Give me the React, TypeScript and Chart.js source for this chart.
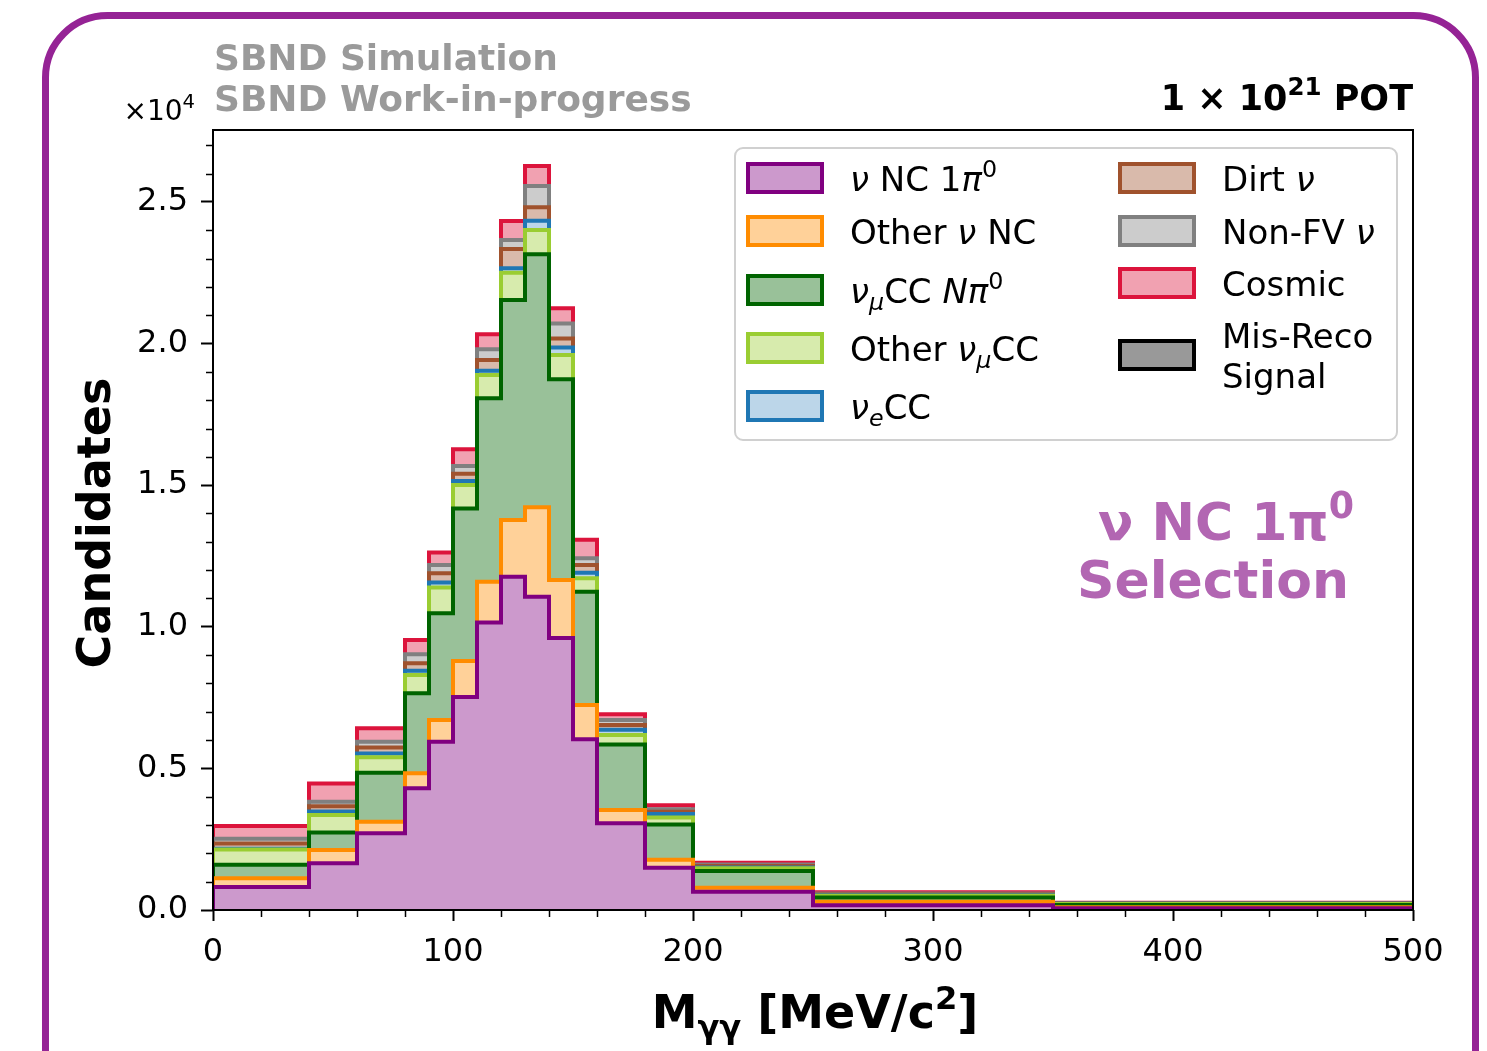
import React, { useEffect, useRef } from "react";
import { Chart, registerables } from "chart.js";

Chart.register(...registerables);

// ---------------- DATA ----------------
const binEdges = [0, 40, 60, 80, 90, 100, 110, 120, 130, 140, 150, 160, 180, 200, 250, 350, 500];

const nuNC1pi0 = [810, 1650, 2710, 4300, 5940, 7520, 10150, 11770, 11060, 9600, 6030, 3060, 1490, 640, 170, 60];
const otherNuNC = [310, 470, 410, 530, 770, 1270, 1440, 2000, 3160, 2050, 1210, 470, 280, 150, 120, 40];
const numuCCNpi0 = [480, 620, 1730, 2820, 3770, 5390, 6480, 7770, 8930, 7090, 4000, 2310, 1250, 590, 150, 80];
const otherNumuCC = [540, 610, 540, 650, 910, 830, 820, 960, 860, 860, 470, 340, 250, 90, 60, 30];
const nueCC = [20, 130, 140, 150, 170, 140, 150, 160, 330, 260, 200, 180, 120, 30, 20, 10];
const dirtNu = [190, 180, 210, 260, 330, 250, 380, 680, 470, 320, 270, 170, 80, 50, 30, 10];
const nonFVNu = [170, 160, 200, 320, 290, 280, 380, 320, 750, 530, 240, 180, 90, 60, 30, 10];
const cosmic = [450, 650, 480, 500, 440, 590, 530, 670, 710, 540, 650, 200, 140, 60, 50, 20];
const misRecoSignal = [0, 0, 0, 0, 0, 0, 0, 0, 0, 0, 0, 0, 0, 0, 0, 0];

const xTicks = [0, 100, 200, 300, 400, 500];
const yTicks = [0, 5000, 10000, 15000, 20000, 25000];
const yMax = 27540;

// legend/series labels
type Seg = { t: string; it?: boolean; sub?: boolean; sup?: boolean };
const seriesNames = [
  "ν NC 1π0",
  "Other ν NC",
  "νμCC Nπ0",
  "Other νμCC",
  "νeCC",
  "Dirt ν",
  "Non-FV ν",
  "Cosmic",
  "Mis-Reco Signal",
];
const seriesRich: Seg[][] = [
  [{ t: "ν", it: true }, { t: " NC 1" }, { t: "π", it: true }, { t: "0", sup: true }],
  [{ t: "Other " }, { t: "ν", it: true }, { t: " NC" }],
  [{ t: "ν", it: true }, { t: "μ", it: true, sub: true }, { t: "CC " }, { t: "Nπ", it: true }, { t: "0", sup: true }],
  [{ t: "Other " }, { t: "ν", it: true }, { t: "μ", it: true, sub: true }, { t: "CC" }],
  [{ t: "ν", it: true }, { t: "e", it: true, sub: true }, { t: "CC" }],
  [{ t: "Dirt " }, { t: "ν", it: true }],
  [{ t: "Non-FV " }, { t: "ν", it: true }],
  [{ t: "Cosmic" }],
  [{ t: "Mis-Reco" }],
];

const seriesValues = [nuNC1pi0, otherNuNC, numuCCNpi0, otherNumuCC, nueCC, dirtNu, nonFVNu, cosmic, misRecoSignal];
const edgeColors = ["#800080", "#ff8c00", "#006400", "#9acd32", "#1f77b4", "#a0522d", "#808080", "#dc143c", "#000000"];
const fillColors = ["#cc99cc", "#ffd199", "#99c199", "#d7ebad", "#bcd6e9", "#d9baab", "#cccccc", "#f1a1b1", "#999999"];

// ---------------- HELPERS ----------------
const FAM = '"DejaVu Sans"';

function fontFor(seg: Seg, size: number, bold: boolean) {
  const s = seg.sub || seg.sup ? size * 0.7 : size;
  return `${seg.it ? "italic " : ""}${bold ? "bold " : ""}${s}px ${FAM}`;
}

function drawRich(
  ctx: CanvasRenderingContext2D,
  segs: Seg[],
  x: number,
  y: number,
  size: number,
  bold: boolean,
  color: string,
  align: "left" | "center" | "right"
) {
  ctx.save();
  ctx.fillStyle = color;
  ctx.textBaseline = "alphabetic";
  ctx.textAlign = "left";
  let w = 0;
  for (const s of segs) {
    ctx.font = fontFor(s, size, bold);
    w += ctx.measureText(s.t).width;
  }
  let cx = align === "left" ? x : align === "center" ? x - w / 2 : x - w;
  for (const s of segs) {
    ctx.font = fontFor(s, size, bold);
    const dy = s.sub ? size * 0.22 : s.sup ? -size * 0.42 : 0;
    ctx.fillText(s.t, cx, y + dy);
    cx += ctx.measureText(s.t).width;
  }
  ctx.restore();
}

function stepPoints(cum: number[]) {
  const pts: { x: number; y: number }[] = [{ x: binEdges[0], y: 0 }];
  for (let i = 0; i < cum.length; i++) {
    pts.push({ x: binEdges[i], y: cum[i] });
    pts.push({ x: binEdges[i + 1], y: cum[i] });
  }
  pts.push({ x: binEdges[binEdges.length - 1], y: 0 });
  return pts;
}

const decorPlugin = {
  id: "decor",
  beforeDraw(chart: any) {
    const ctx: CanvasRenderingContext2D = chart.ctx;
    ctx.save();
    ctx.fillStyle = "#ffffff";
    ctx.fillRect(0, 0, chart.width, chart.height);
    ctx.restore();
  },
  afterDraw(chart: any) {
    const ctx: CanvasRenderingContext2D = chart.ctx;
    const { left, right, top, bottom } = chart.chartArea;
    const xs = chart.scales.x;
    const ys = chart.scales.y;

    // spines
    ctx.save();
    ctx.strokeStyle = "#000";
    ctx.lineWidth = 2;
    ctx.strokeRect(left, top, right - left, bottom - top);

    // minor ticks
    ctx.lineWidth = 1.5;
    ctx.beginPath();
    for (let v = 0; v <= 500; v += 20) {
      if (v % 100 === 0) continue;
      const px = Math.round(xs.getPixelForValue(v)) + 0.5;
      ctx.moveTo(px, bottom);
      ctx.lineTo(px, bottom + 7);
    }
    for (let v = 1000; v <= yMax; v += 1000) {
      if (v % 5000 === 0) continue;
      const py = Math.round(ys.getPixelForValue(v)) + 0.5;
      ctx.moveTo(left, py);
      ctx.lineTo(left - 7, py);
    }
    ctx.stroke();
    ctx.restore();

    // offset text
    drawRich(ctx, [{ t: "×10" }, { t: "4", sup: true }], 195, 120, 28, false, "#000", "right");

    // header texts
    drawRich(ctx, [{ t: "SBND Simulation" }], 214, 70, 36, true, "#9a9a9a", "left");
    drawRich(ctx, [{ t: "SBND Work-in-progress" }], 214, 111, 36, true, "#9a9a9a", "left");
    drawRich(ctx, [{ t: "1 × 10" }, { t: "21", sup: true }, { t: " POT" }], 1413, 110, 35, true, "#000", "right");

    // axis titles
    drawRich(
      ctx,
      [{ t: "M" }, { t: "γγ", sub: true }, { t: " [MeV/c" }, { t: "2", sup: true }, { t: "]" }],
      815,
      1028,
      46,
      true,
      "#000",
      "center"
    );
    ctx.save();
    ctx.translate(110, 523);
    ctx.rotate(-Math.PI / 2);
    drawRich(ctx, [{ t: "Candidates" }], 0, 0, 46, true, "#000", "center");
    ctx.restore();

    // selection annotation
    drawRich(ctx, [{ t: "ν NC 1π" }, { t: "0", sup: true }], 1226, 540, 52, true, "#b266b2", "center");
    drawRich(ctx, [{ t: "Selection" }], 1213, 598, 52, true, "#b266b2", "center");

    // legend
    ctx.save();
    ctx.fillStyle = "rgba(255,255,255,0.85)";
    ctx.strokeStyle = "#d0d0d0";
    ctx.lineWidth = 2;
    ctx.beginPath();
    (ctx as any).roundRect(735, 148, 662, 292, 8);
    ctx.fill();
    ctx.stroke();
    ctx.restore();

    const col1Y = [178, 231, 290, 348, 406];
    const col2Y = [178, 231, 283, 355];
    const drawHandle = (x: number, cy: number, i: number) => {
      ctx.save();
      ctx.fillStyle = fillColors[i];
      ctx.strokeStyle = edgeColors[i];
      ctx.lineWidth = 4;
      ctx.lineJoin = "miter";
      ctx.fillRect(x, cy - 14, 74, 28);
      ctx.strokeRect(x, cy - 14, 74, 28);
      ctx.restore();
    };
    for (let i = 0; i < 5; i++) {
      drawHandle(748, col1Y[i], i);
      drawRich(ctx, seriesRich[i], 850, col1Y[i] + 13, 34, false, "#000", "left");
    }
    for (let j = 0; j < 4; j++) {
      const i = j + 5;
      drawHandle(1120, col2Y[j], i);
      if (i === 8) {
        drawRich(ctx, seriesRich[i], 1222, 348, 34, false, "#000", "left");
        drawRich(ctx, [{ t: "Signal" }], 1222, 388, 34, false, "#000", "left");
      } else {
        drawRich(ctx, seriesRich[i], 1222, col2Y[j] + 13, 34, false, "#000", "left");
      }
    }

    // outer frame
    ctx.save();
    ctx.strokeStyle = "#952395";
    ctx.lineWidth = 7;
    ctx.beginPath();
    (ctx as any).roundRect(45.5, 15.5, 1430, 1200, 62);
    ctx.stroke();
    ctx.restore();
  },
};

export default function App() {
  const ref = useRef<HTMLCanvasElement | null>(null);

  useEffect(() => {
    if (!ref.current) return;
    const cum: number[][] = [];
    seriesValues.forEach((vals, k) => {
      cum.push(vals.map((v, i) => v + (k > 0 ? cum[k - 1][i] : 0)));
    });
    const datasets = seriesValues.map((_, k) => ({
      label: seriesNames[k],
      data: stepPoints(cum[k]),
      borderColor: edgeColors[k],
      backgroundColor: fillColors[k],
      borderWidth: k === 8 ? 2 : 4,
      fill: "origin",
      pointRadius: 0,
      tension: 0,
      borderJoinStyle: "miter" as const,
      borderCapStyle: "butt" as const,
      order: k,
    }));

    const tickFont = { family: "DejaVu Sans", size: 32 };
    const chart = new Chart(ref.current, {
      type: "line",
      data: { datasets },
      plugins: [decorPlugin],
      options: {
        animation: false,
        responsive: false,
        devicePixelRatio: 1,
        layout: { padding: { top: 130, right: 74, left: 0, bottom: 0 } },
        plugins: { legend: { display: false }, tooltip: { enabled: false } },
        scales: {
          x: {
            type: "linear",
            min: 0,
            max: 500,
            afterBuildTicks: (s: any) => {
              s.ticks = xTicks.map((v) => ({ value: v }));
            },
            afterFit: (s: any) => {
              s.height = 141;
            },
            ticks: { font: tickFont, color: "#000", padding: 12, maxRotation: 0, autoSkip: false },
            grid: {
              display: true,
              drawOnChartArea: false,
              drawTicks: true,
              tickLength: 11,
              tickWidth: 2,
              tickColor: "#000",
              color: "#000",
            },
            border: { display: false },
          },
          y: {
            type: "linear",
            min: 0,
            max: yMax,
            afterBuildTicks: (s: any) => {
              s.ticks = yTicks.map((v) => ({ value: v }));
            },
            afterFit: (s: any) => {
              s.width = 213;
            },
            ticks: {
              font: tickFont,
              color: "#000",
              padding: 13,
              callback: (v: any) => (Number(v) / 1e4).toFixed(1),
            },
            grid: {
              display: true,
              drawOnChartArea: false,
              drawTicks: true,
              tickLength: 12,
              tickWidth: 2,
              tickColor: "#000",
              color: "#000",
            },
            border: { display: false },
          },
        },
      } as any,
    });
    return () => chart.destroy();
  }, []);

  return (
    <div style={{ position: "fixed", left: 0, top: 0, width: 1487, height: 1051, background: "#fff" }}>
      <canvas ref={ref} width={1487} height={1051} style={{ width: 1487, height: 1051, display: "block" }} />
    </div>
  );
}
